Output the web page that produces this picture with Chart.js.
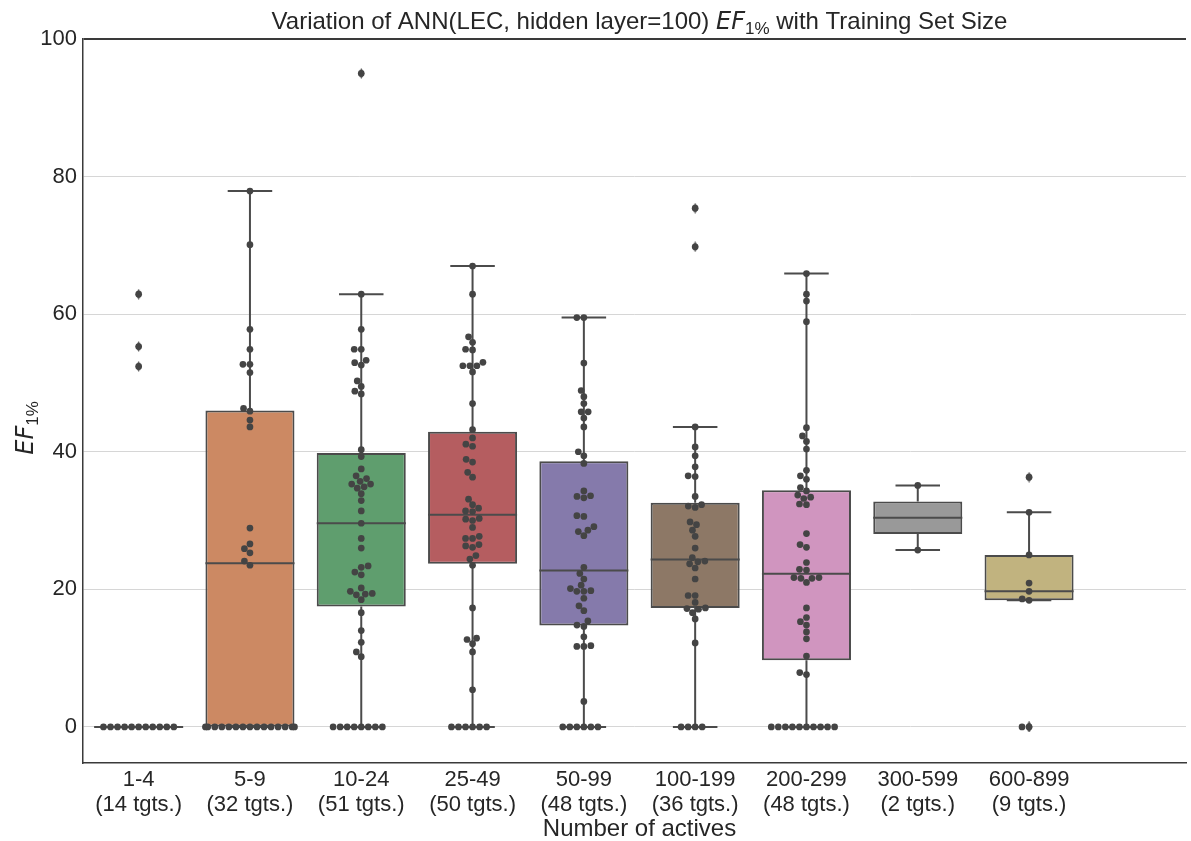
<!DOCTYPE html>
<html>
<head>
<meta charset="utf-8">
<script src="https://cdn.jsdelivr.net/npm/chart.js@4.4.1/dist/chart.umd.min.js"></script>
<style>
  html, body { margin: 0; padding: 0; background: #ffffff; }
  #wrap { width: 1191px; height: 841px; position: relative; }
</style>
</head>
<body>
<div id="wrap"><canvas id="efChart"></canvas></div>
<script>
// categories and number of targets per bin
const categories = ['1-4', '5-9', '10-24', '25-49', '50-99', '100-199', '200-299', '300-599', '600-899'];
const targetCounts = [14, 32, 51, 50, 48, 36, 48, 2, 9];

// box statistics
const boxQ1 = [0, 0, 17.5, 23.7, 14.75, 17.3, 9.7, 28.05, 18.4];
const boxMedian = [0, 23.8, 29.6, 30.85, 22.75, 24.35, 22.25, 30.4, 19.7];
const boxQ3 = [0, 46.0, 39.8, 42.9, 38.6, 32.6, 34.4, 32.75, 25.0];
const whiskerLow = [0, 0, 0, 0, 0, 0, 0, 25.7, 18.4];
const whiskerHigh = [0, 77.9, 62.9, 67.0, 59.5, 43.6, 65.9, 35.1, 31.2];

// outliers (diamonds)
const outliers = [
  [62.9, 55.3, 52.4], [], [95], [], [], [75.4, 69.8], [], [], [36.3, 0, 0]
];

// EF1% per target (swarm points)
const ef1to4 = [62.9, 55.3, 52.4, 0, 0, 0, 0, 0, 0, 0, 0, 0, 0, 0];
const ef5to9 = [77.9, 70.1, 57.8, 54.9, 52.7, 52.7, 51.5, 46.3, 45.9, 44.6, 43.6, 28.9, 26.6, 25.9, 25.3, 24.1, 23.5,
  0, 0, 0, 0, 0, 0, 0, 0, 0, 0, 0, 0, 0, 0, 0];
const ef10to24 = [95, 62.9, 57.8, 54.9, 54.9, 53.3, 52.95, 52.6, 50.3, 49.5, 48.8, 48.4, 40.3, 39.3, 37.5, 36.5, 36.1,
  35.7, 35.3, 35.3, 34.9, 34.7, 33.9, 32.9, 31.4, 29.6, 27.4, 26.0, 23.4, 23.2, 22.5, 22.1, 20.2, 19.7, 19.4, 19.3,
  19.2, 18.5, 16.6, 14.0, 12.3, 10.9, 10.2, 0, 0, 0, 0, 0, 0, 0, 0];
const ef25to49 = [67.0, 62.9, 56.7, 55.9, 54.9, 54.8, 53.0, 52.5, 52.5, 52.5, 51.6, 47.0, 43.2, 42.0, 41.1, 40.8, 38.9,
  38.5, 37.0, 36.3, 33.1, 32.3, 31.8, 31.4, 31.3, 30.3, 30.2, 30.0, 29.0, 27.7, 27.4, 27.4, 26.5, 26.3, 26.1, 24.9,
  24.4, 23.5, 17.3, 12.9, 12.7, 12.1, 10.9, 5.4, 0, 0, 0, 0, 0, 0];
const ef50to99 = [59.5, 59.5, 52.9, 48.9, 48.0, 47.0, 45.8, 45.8, 44.9, 43.6, 40.0, 39.4, 38.3, 34.3, 33.6, 33.5, 33.3,
  30.7, 30.6, 29.1, 28.6, 28.4, 27.8, 23.2, 22.3, 21.5, 20.6, 20.1, 19.8, 19.7, 19.7, 18.7, 17.6, 16.9, 15.4, 14.8,
  14.6, 13.1, 11.8, 11.7, 11.7, 3.7, 0, 0, 0, 0, 0, 0];
const ef100to199 = [75.4, 69.8, 43.6, 40.7, 39.4, 37.8, 36.5, 36.4, 33.5, 32.3, 32.1, 31.9, 29.8, 29.4, 28.6, 27.7, 26.0,
  24.6, 24.1, 24.0, 23.7, 23.1, 21.5, 19.1, 19.1, 18.1, 17.3, 17.2, 17.1, 16.6, 15.7, 12.2, 0, 0, 0, 0];
const ef200to299 = [65.9, 62.9, 61.9, 58.9, 43.5, 42.3, 41.5, 40.4, 37.3, 36.5, 36.0, 34.8, 34.3, 33.7, 33.4, 33.2, 32.4,
  32.3, 28.1, 26.5, 26.1, 23.9, 22.9, 22.8, 21.7, 21.6, 21.7, 21.6, 21.0, 17.3, 15.9, 15.3, 14.8, 13.8, 12.8,
  10.3, 7.9, 7.6, 0, 0, 0, 0, 0, 0, 0, 0, 0, 0];
const ef300to599 = [35.1, 25.7];
const ef600to899 = [36.3, 31.2, 25.0, 20.9, 19.7, 18.6, 18.4, 0, 0];
const swarmSeries = [ef1to4, ef5to9, ef10to24, ef25to49, ef50to99, ef100to199, ef200to299, ef300to599, ef600to899];

const yTicks = [0, 20, 40, 60, 80, 100];

// styles
const boxColors = ['#5875A4', '#CC8963', '#5F9E6E', '#B55D60', '#857AAB', '#8D7866', '#D095BF', '#999999', '#C1B37F'];
const lineGray = '#4b4b4b';
const dotColor = '#444444';
const textColor = '#262626';
const gridColor = '#d6d6d6';
const spineColor = '#3a3a3a';
const dotDiameter = 6.7;
const boxHalf = 0.4;
const capHalf = 0.2;

// whiskers, caps and medians as line segments separated by gaps
const segs = [];
categories.forEach((c, i) => {
  segs.push({x: i, y: whiskerLow[i]}, {x: i, y: boxQ1[i]}, {x: i, y: null});
  segs.push({x: i, y: boxQ3[i]}, {x: i, y: whiskerHigh[i]}, {x: i, y: null});
  segs.push({x: i - capHalf, y: whiskerLow[i]}, {x: i + capHalf, y: whiskerLow[i]}, {x: i, y: null});
  segs.push({x: i - capHalf, y: whiskerHigh[i]}, {x: i + capHalf, y: whiskerHigh[i]}, {x: i, y: null});
  segs.push({x: i - boxHalf, y: boxMedian[i]}, {x: i + boxHalf, y: boxMedian[i]}, {x: i, y: null});
});

const fliers = [];
outliers.forEach((vals, i) => vals.forEach(v => fliers.push({x: i, y: v})));

// thin diamond marker for outliers
const diamond = document.createElement('canvas');
diamond.width = 7; diamond.height = 11;
(function() {
  const g = diamond.getContext('2d');
  g.fillStyle = lineGray;
  g.beginPath();
  g.moveTo(3.5, 0); g.lineTo(6.4, 5.5); g.lineTo(3.5, 11); g.lineTo(0.6, 5.5);
  g.closePath(); g.fill();
})();

// text with italic EF and subscript 1%
function drawMixed(ctx, parts, cx, cy, size) {
  const fontOf = p => p.sub ? `${Math.round(size * 0.7)}px "Liberation Sans"`
    : (p.it ? `italic ${size}px "DejaVu Sans"` : `${size}px "Liberation Sans"`);
  let total = 0;
  parts.forEach(p => { ctx.font = fontOf(p); total += ctx.measureText(p.t).width; });
  let x = cx - total / 2;
  ctx.textBaseline = 'alphabetic';
  ctx.textAlign = 'left';
  parts.forEach(p => {
    ctx.font = fontOf(p);
    ctx.fillText(p.t, x, cy + (p.sub ? size * 0.22 : 0));
    x += ctx.measureText(p.t).width;
  });
}

const labelsPlugin = {
  id: 'labels',
  afterDraw(chart) {
    const ctx = chart.ctx;
    const xs = chart.scales.x;
    const mid = xs.getPixelForValue(4.5);
    ctx.save();
    ctx.fillStyle = textColor;
    drawMixed(ctx, [
      {t: 'Variation of ANN(LEC, hidden layer=100) '}, {t: 'EF', it: true}, {t: '1%', sub: true},
      {t: ' with Training Set Size'}
    ], mid, 29, 24);
    drawMixed(ctx, [{t: 'Number of actives'}], mid, 836, 24);
    ctx.translate(33, 428);
    ctx.rotate(-Math.PI / 2);
    drawMixed(ctx, [{t: 'EF', it: true}, {t: '1%', sub: true}], 0, 0, 24);
    ctx.restore();
  }
};

const chart = new Chart(document.getElementById('efChart'), {
  data: {
    datasets: [
      {
        type: 'bar',
        data: categories.map((c, i) => ({x: i, y: [boxQ1[i], boxQ3[i]]})),
        backgroundColor: boxColors,
        borderColor: lineGray,
        borderWidth: 2,
        borderSkipped: false,
        barPercentage: 1.0,
        categoryPercentage: 0.8,
        order: 4
      },
      {
        type: 'line',
        data: segs,
        borderColor: lineGray,
        borderWidth: 2,
        pointRadius: 0,
        spanGaps: false,
        fill: false,
        order: 3
      },
      {
        type: 'scatter',
        data: fliers,
        pointStyle: diamond,
        order: 2
      },
      {
        type: 'scatter',
        data: [],
        pointRadius: dotDiameter / 2,
        backgroundColor: dotColor,
        borderWidth: 0,
        order: 1
      }
    ]
  },
  options: {
    responsive: true,
    maintainAspectRatio: false,
    devicePixelRatio: 1,
    animation: false,
    layout: { padding: { top: 39, right: 2, left: 0, bottom: 0 } },
    plugins: { legend: { display: false }, tooltip: { enabled: false } },
    scales: {
      x: {
        type: 'linear',
        offset: false,
        min: -0.5,
        max: 9.41,
        afterBuildTicks: s => { s.ticks = categories.map((c, i) => ({value: i})); },
        afterFit: s => { s.height = 78; },
        grid: { display: false, drawTicks: false, offset: false },
        border: { display: true, color: spineColor, width: 1.5 },
        ticks: {
          padding: 4,
          color: textColor,
          autoSkip: false,
          maxRotation: 0,
          font: { family: '"Liberation Sans"', size: 22, lineHeight: 1.15 },
          callback: v => [categories[v], `(${targetCounts[v]} tgts.)`]
        }
      },
      y: {
        min: -5.25,
        max: 100,
        afterBuildTicks: s => { s.ticks = yTicks.map(v => ({value: v})); },
        afterFit: s => { s.width = 83; },
        grid: {
          drawTicks: false,
          color: c => c.tick && c.tick.value === 100 ? spineColor : gridColor,
          lineWidth: c => c.tick && c.tick.value === 100 ? 2 : 1
        },
        border: { display: true, color: spineColor, width: 1.5 },
        ticks: {
          padding: 6,
          color: textColor,
          font: { family: '"Liberation Sans"', size: 22 }
        }
      }
    }
  },
  plugins: [labelsPlugin]
});

// seaborn-like beeswarm placement in pixel space
function layoutSwarm(chart) {
  const xs = chart.scales.x, ys = chart.scales.y;
  const unit = xs.getPixelForValue(1) - xs.getPixelForValue(0);
  const d = dotDiameter;
  const pts = [];
  swarmSeries.forEach((vals, i) => {
    const mid = xs.getPixelForValue(i);
    const sorted = vals.map(v => ({v: v, y: ys.getPixelForValue(v)})).sort((a, b) => a.v - b.v);
    const placed = [];
    sorted.forEach(p => {
      const nb = [];
      for (let k = placed.length - 1; k >= 0; k--) {
        if (Math.abs(p.y - placed[k].y) < d) nb.unshift(placed[k]); else break;
      }
      let cand = [mid];
      let leftFirst = true;
      nb.forEach(q => {
        const dy = p.y - q.y;
        const dx = Math.sqrt(Math.max(d * d - dy * dy, 0)) * 1.05;
        cand.push(...(leftFirst ? [q.x - dx, q.x + dx] : [q.x + dx, q.x - dx]));
        leftFirst = !leftFirst;
      });
      cand = cand.map((x, idx) => ({x, idx}))
        .sort((a, b) => (Math.abs(a.x - mid) - Math.abs(b.x - mid)) || (a.idx - b.idx));
      let x = mid;
      for (const c of cand) {
        if (nb.every(q => (q.x - c.x) ** 2 + (q.y - p.y) ** 2 >= d * d - 1e-9)) { x = c.x; break; }
      }
      placed.push({x: x, y: p.y, v: p.v});
    });
    const lim = boxHalf * unit;
    placed.forEach(p => {
      const x = Math.min(mid + lim, Math.max(mid - lim, p.x));
      pts.push({x: xs.getValueForPixel(x), y: p.v});
    });
  });
  chart.data.datasets[3].data = pts;
  chart.update('none');
}
layoutSwarm(chart);
</script>
</body>
</html>
